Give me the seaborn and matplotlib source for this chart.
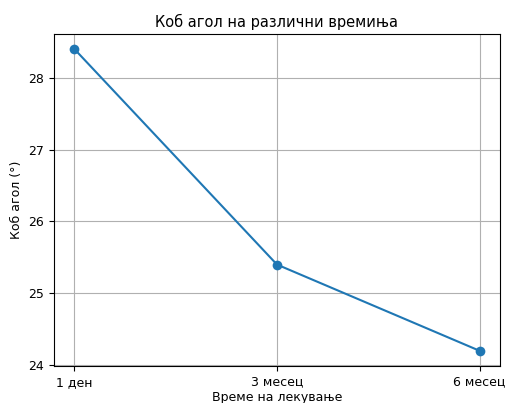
import matplotlib
matplotlib.use("Agg")
import matplotlib.pyplot as plt
import seaborn as sns
import pandas as pd

times = ["1 ден", "3 месец", "6 месец"]
cobb_angle = [28.4, 25.4, 24.2]

df = pd.DataFrame({"time": times, "angle": cobb_angle})

plt.rcParams['font.family'] = ['DejaVu Sans']
fig = plt.figure(figsize=(5.05, 4.03), dpi=100)
ax = fig.add_axes([0.107, 0.092, 0.883, 0.824])
sns.lineplot(data=df, x="time", y="angle", marker="o", markeredgewidth=0,
             markersize=7, color="#1f77b4", linewidth=1.5, ax=ax, sort=False)
ax.grid(True)
ax.set_yticks([24, 25, 26, 27, 28])
ax.set_title("Коб агол на различни времиња", fontsize=10.5, pad=5)
ax.set_xlabel("Време на лекување", fontsize=9, labelpad=2)
ax.set_ylabel("Коб агол (°)", fontsize=9)
ax.tick_params(labelsize=9)
fig.savefig("out.png", dpi=100)
